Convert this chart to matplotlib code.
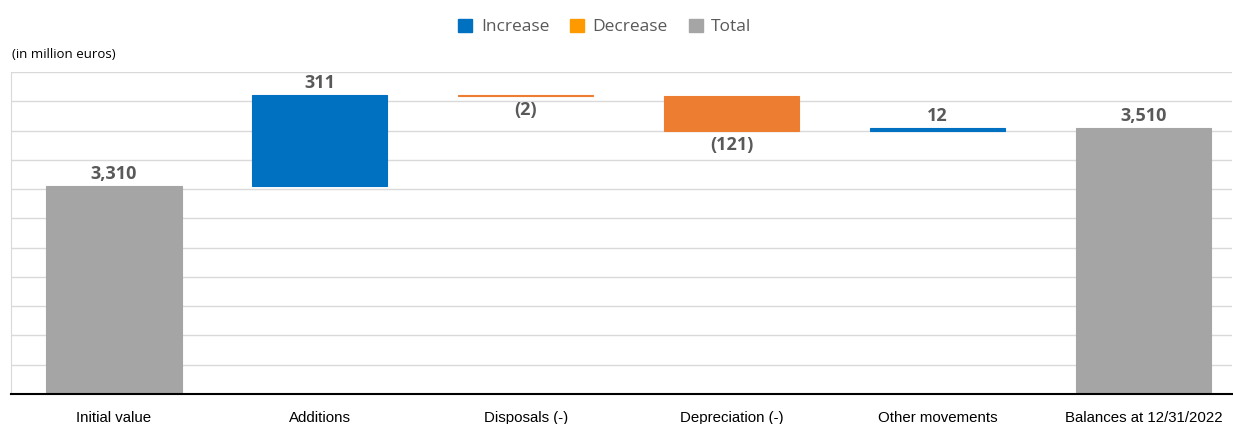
"""
Waterfall of fixed-asset movements (in million euros).
"""
import matplotlib.pyplot as plt
from matplotlib.patches import Patch

categories = ["Initial value", "Additions", "Disposals (-)", "Depreciation (-)",
              "Other movements", "Balances at 12/31/2022"]
changes = [3310, 311, -2, -121, 12, 3510]
kinds = ["total", "increase", "decrease", "decrease", "increase", "total"]
labels = ["3,310", "311", "(2)", "(121)", "12", "3,510"]

COL = {"increase": "#0070C0", "decrease": "#ED7D31", "total": "#A5A5A5"}
LEG_COL = {"increase": "#0070C0", "decrease": "#FF9900", "total": "#A5A5A5"}
TXT = "#595959"


def main():
    fig = plt.figure(figsize=(12.33, 4.24), dpi=100)
    ax = fig.add_axes([11 / 1233, 30 / 424, 1221 / 1233, 322 / 424])

    running = 0
    for i, (c, k) in enumerate(zip(changes, kinds)):
        if k == "total":
            bottom, height = 0, c
            running = c
        else:
            bottom, height = running, c
            running += c
        # thin edge keeps the tiny movements (e.g. -2) visible as a line
        ax.bar(i, height, bottom=bottom, width=0.657, color=COL[k],
               edgecolor=COL[k], lw=0.8, zorder=2)
        top = max(bottom, bottom + height)
        low = min(bottom, bottom + height)
        if c >= 0:
            ax.annotate(labels[i], (i, top), xytext=(0, 2), textcoords="offset points",
                        ha="center", va="bottom", fontsize=13, fontweight="bold",
                        color=TXT, family="Open Sans")
        else:
            ax.annotate(labels[i], (i, low), xytext=(0, -3.5), textcoords="offset points",
                        ha="center", va="top", fontsize=13, fontweight="bold",
                        color=TXT, family="Open Sans")

    ax.set_ylim(2600, 3700)
    ax.set_xlim(-0.5, 5.43)
    ax.set_yticks(range(2600, 3701, 100))
    ax.set_yticklabels([])
    ax.tick_params(axis="y", length=0)
    ax.tick_params(axis="x", length=0, pad=12)
    ax.set_xticks(range(len(categories)))
    ax.set_xticklabels(categories, fontsize=10.8, family="Liberation Sans", color="black")
    ax.grid(axis="y", color="#D9D9D9", lw=1, zorder=0)
    for s in ["top", "right"]:
        ax.spines[s].set_visible(False)
    ax.spines["left"].set_color("#D9D9D9")
    ax.spines["bottom"].set_color("black")
    ax.spines["bottom"].set_linewidth(1.5)
    ax.spines["bottom"].set_zorder(3)

    fig.text(12 / 1233, 1 - 55 / 424, "(in million euros)", fontsize=9.5,
             family="Open Sans", color="black", va="center")

    handles = [Patch(color=LEG_COL[k]) for k in ["increase", "decrease", "total"]]
    fig.legend(handles, ["Increase", "Decrease", "Total"], loc="center",
               bbox_to_anchor=(605 / 1233, 1 - 27 / 424), ncol=3, frameon=False,
               handlelength=0.8, handleheight=0.8, handletextpad=0.5, columnspacing=1.2,
               prop={"family": "Open Sans", "size": 12.5}, labelcolor=TXT)

    fig.savefig("out.png", dpi=100)


if __name__ == "__main__":
    main()
